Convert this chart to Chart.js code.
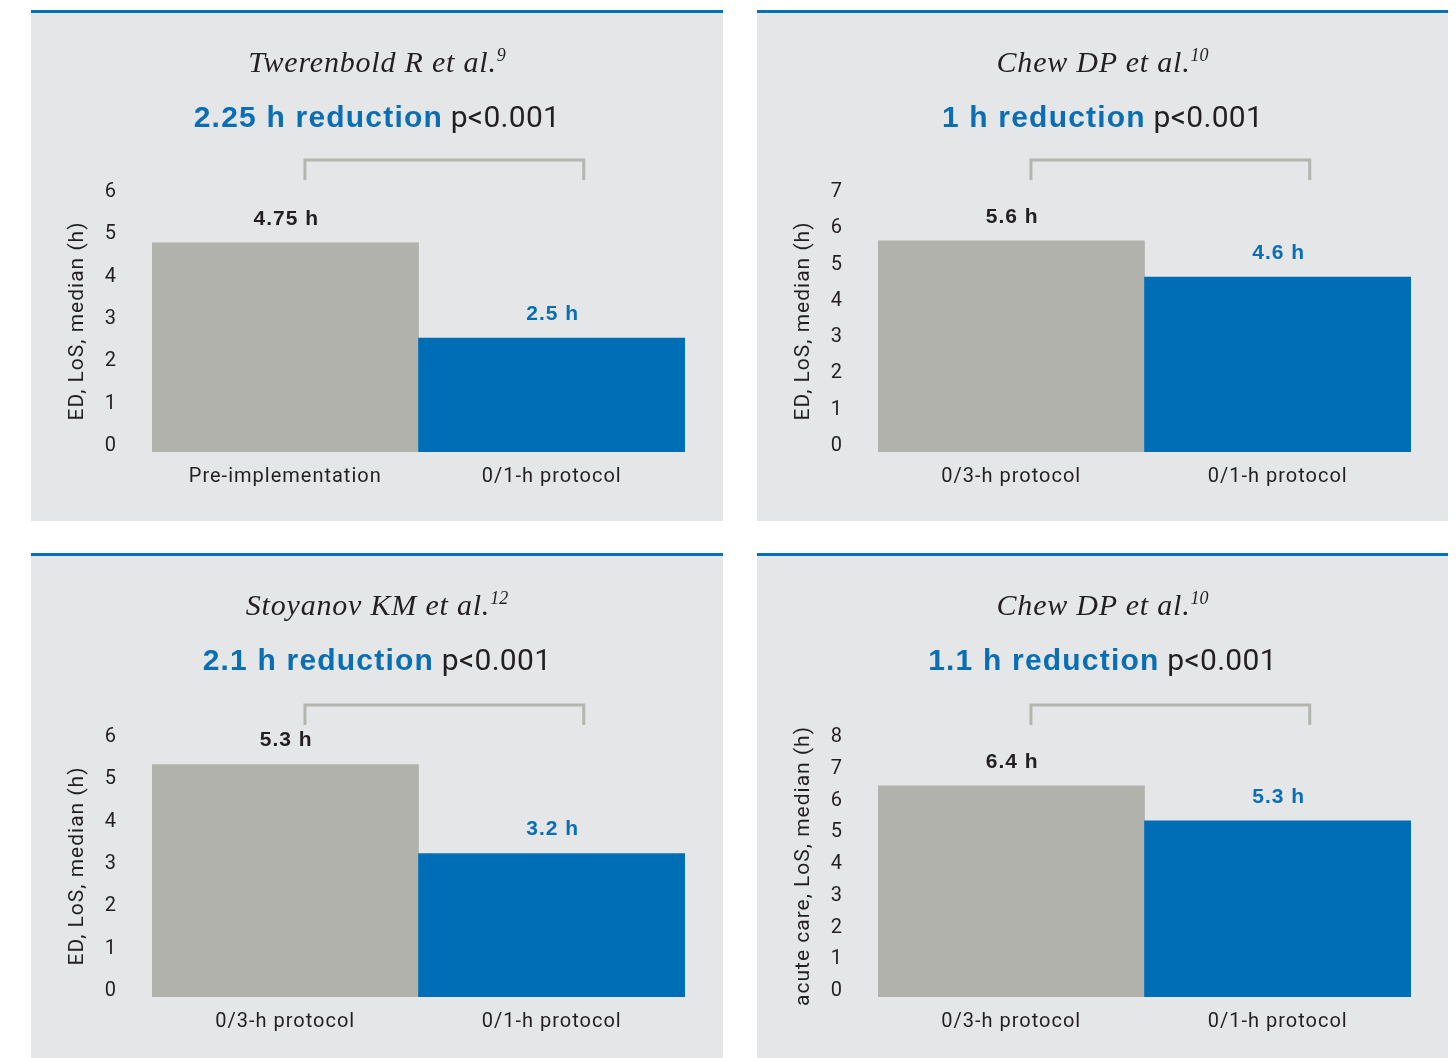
<!DOCTYPE html>
<html>
<head>
<meta charset="utf-8">
<script src="https://cdn.jsdelivr.net/npm/chart.js@4.4.1/dist/chart.umd.min.js"></script>
<style>
  body { margin: 0; background: #fff; width: 1456px; height: 1058px; position: relative; overflow: hidden; }
  .panel { position: absolute; background: #e5e6e8; border-top: 3px solid #0071bb; }
  .cite { position: absolute; left: 0; right: 0; top: 30px; height: 38px; line-height: 38px; text-align: center;
          font-family: "Liberation Serif", serif; font-style: italic; font-size: 30px; letter-spacing: 0.8px; color: #231f20; }
  .cite sup { font-size: 0.6em; vertical-align: 0; position: relative; top: -0.6em; letter-spacing: 0; }
  .red { position: absolute; left: 0; right: 0; top: 85px; height: 38px; line-height: 38px; text-align: center;
         font-family: "Liberation Sans", Arial, sans-serif; font-size: 30px; color: #231f20; }
  .red b { color: #0a6eb4; letter-spacing: 1.2px; }
  .red span { font-family: Roboto, sans-serif; font-size: 30px; letter-spacing: 0.3px; }
  .wrap { position: absolute; left: 0; top: 0; right: 0; bottom: 0; }
</style>
</head>
<body>
<script>
const citeNames = ["Twerenbold R et al.", "Chew DP et al.", "Stoyanov KM et al.", "Chew DP et al."];
const citeRefs = ["9", "10", "12", "10"];
const reductions = ["2.25 h reduction", "1 h reduction", "2.1 h reduction", "1.1 h reduction"];
const pValues = ["p<0.001", "p<0.001", "p<0.001", "p<0.001"];
const axisTitles = ["ED, LoS, median (h)", "ED, LoS, median (h)", "ED, LoS, median (h)", "acute care, LoS, median (h)"];

const categoriesPre = ["Pre-implementation", "0/1-h protocol"];
const categoriesProtocol = ["0/3-h protocol", "0/1-h protocol"];

const valuesTwerenbold = [4.75, 2.5];
const valuesChewED = [5.6, 4.6];
const valuesStoyanov = [5.3, 3.2];
const valuesChewAcute = [6.4, 5.3];

const ticksTo6 = [0, 1, 2, 3, 4, 5, 6];
const ticksTo7 = [0, 1, 2, 3, 4, 5, 6, 7];
const ticksTo8 = [0, 1, 2, 3, 4, 5, 6, 7, 8];

const barColors = ["#b2b2ac", "#006eb6"];
const labelColors = ["#231f20", "#0a6eb4"];
const textColor = "#231f20";
const tickFont = { family: "Roboto, 'Liberation Sans', sans-serif", size: 20 };
const axisTitleFont = { family: "Roboto, 'Liberation Sans', sans-serif", size: 21 };

// panel boxes (left, top of blue rule, width, height below rule) and chart area (top/bottom inside panel)
const panels = [
  { left: 31, top: 10, width: 692, height: 508, areaTop: 177, areaBottom: 439, cats: categoriesPre, vals: valuesTwerenbold, ticks: ticksTo6 },
  { left: 757, top: 10, width: 691, height: 508, areaTop: 177, areaBottom: 439, cats: categoriesProtocol, vals: valuesChewED, ticks: ticksTo7 },
  { left: 31, top: 553, width: 692, height: 502, areaTop: 179, areaBottom: 441, cats: categoriesProtocol, vals: valuesStoyanov, ticks: ticksTo6 },
  { left: 757, top: 553, width: 691, height: 502, areaTop: 179, areaBottom: 441, cats: categoriesProtocol, vals: valuesChewAcute, ticks: ticksTo8 },
];

// bar values above bars and the bracket between them
const barDecor = {
  id: "barDecor",
  beforeDraw(chart) {
    chart.ctx.letterSpacing = "1px";
  },
  afterDatasetsDraw(chart) {
    const ctx = chart.ctx;
    const meta = chart.getDatasetMeta(0);
    const vals = chart.data.datasets[0].data;
    const area = chart.chartArea;
    ctx.save();
    ctx.font = "bold 21px 'Liberation Sans', Arial, sans-serif";
    ctx.letterSpacing = "1px";
    ctx.textAlign = "center";
    ctx.textBaseline = "middle";
    meta.data.forEach((bar, i) => {
      ctx.fillStyle = labelColors[i];
      ctx.fillText(vals[i] + " h", bar.x + 1, bar.y - 24);
    });

    // bracket
    const w = area.right - area.left;
    const x1 = area.left + w * 0.287;
    const x2 = area.left + w * 0.81;
    const yTop = area.top - 30;
    ctx.strokeStyle = "#b5b5b0";
    ctx.lineWidth = 3;
    ctx.beginPath();
    ctx.moveTo(x1, yTop + 20);
    ctx.lineTo(x1, yTop);
    ctx.lineTo(x2, yTop);
    ctx.lineTo(x2, yTop + 20);
    ctx.stroke();
    ctx.restore();
  }
};

panels.forEach((p, idx) => {
  const div = document.createElement("div");
  div.className = "panel";
  div.style.left = p.left + "px";
  div.style.top = p.top + "px";
  div.style.width = p.width + "px";
  div.style.height = p.height + "px";

  const wrap = document.createElement("div");
  wrap.className = "wrap";
  const canvas = document.createElement("canvas");
  wrap.appendChild(canvas);
  div.appendChild(wrap);

  const cite = document.createElement("div");
  cite.className = "cite";
  cite.appendChild(document.createTextNode(citeNames[idx]));
  const sup = document.createElement("sup");
  sup.textContent = citeRefs[idx];
  cite.appendChild(sup);
  div.appendChild(cite);

  const red = document.createElement("div");
  red.className = "red";
  const b = document.createElement("b");
  b.textContent = reductions[idx];
  const s = document.createElement("span");
  s.textContent = " " + pValues[idx];
  red.appendChild(b);
  red.appendChild(s);
  div.appendChild(red);

  document.body.appendChild(div);

  const maxTick = p.ticks[p.ticks.length - 1];
  const pxPerUnit = (p.areaBottom - p.areaTop - 8) / maxTick;
  const yMin = -8 / pxPerUnit; // bars sit a little below the zero tick

  new Chart(canvas, {
    type: "bar",
    data: {
      labels: p.cats,
      datasets: [{
        data: p.vals,
        backgroundColor: barColors,
        borderWidth: 0,
        base: yMin,
        categoryPercentage: 1,
        barPercentage: 1,
      }],
    },
    options: {
      responsive: true,
      maintainAspectRatio: false,
      animation: false,
      events: [],
      layout: { padding: { left: 31, top: p.areaTop, right: p.width - 654, bottom: 0 } },
      plugins: { legend: { display: false }, tooltip: { enabled: false } },
      scales: {
        x: {
          grid: { display: false, drawTicks: false },
          border: { display: false },
          ticks: { color: textColor, padding: 13, font: tickFont },
          afterFit: (scale) => { scale.height = p.height - p.areaBottom; },
        },
        y: {
          min: yMin,
          max: maxTick,
          grid: { display: false, drawTicks: false },
          border: { display: false },
          afterBuildTicks: (scale) => { scale.ticks = p.ticks.map(v => ({ value: v })); },
          ticks: { color: textColor, padding: 35, labelOffset: 2, font: tickFont },
          title: {
            display: true,
            text: axisTitles[idx],
            color: textColor,
            padding: { top: 3, bottom: 4 },
            font: axisTitleFont,
          },
          afterFit: (scale) => { scale.width = 90; },
        },
      },
    },
    plugins: [barDecor],
  });
});
</script>
</body>
</html>
